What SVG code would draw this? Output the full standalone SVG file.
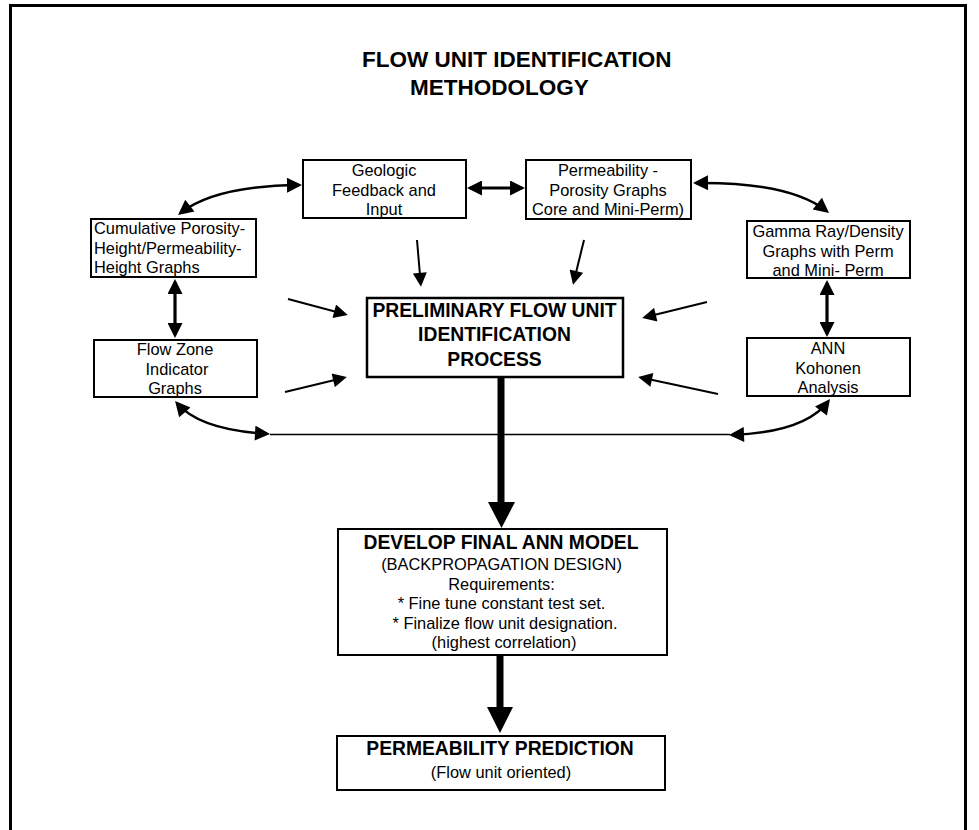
<svg xmlns="http://www.w3.org/2000/svg" width="979" height="830" viewBox="0 0 979 830">
<style>
  .box { fill: #fff; stroke: #000; stroke-width: 2; }
  .t { font-family: "Liberation Sans", Arial, sans-serif; font-size: 16.4px; fill: #000; }
  .c { text-anchor: middle; }
  .b { font-weight: bold; font-size: 19.3px; }
  .title { font-family: "Liberation Sans", Arial, sans-serif; font-weight: bold; font-size: 22.5px; fill: #000; }
  .dbl { fill: none; stroke: #000; stroke-width: 3.2; marker-start: url(#ah); marker-end: url(#ah); }
  .crv { fill: none; stroke: #000; stroke-width: 2.5; marker-start: url(#ah); marker-end: url(#ah); }
  .one { fill: none; stroke: #000; stroke-width: 2; marker-end: url(#ah2); }
  .thick { fill: none; stroke: #000; stroke-width: 7; }
</style>
<defs>
  <marker id="ah" viewBox="0 0 10 10" refX="8" refY="5" markerWidth="17" markerHeight="15" markerUnits="userSpaceOnUse" orient="auto-start-reverse">
    <path d="M0,0 L10,5 L0,10 z" fill="#000"/>
  </marker>
  <marker id="ah2" viewBox="0 0 10 10" refX="8" refY="5" markerWidth="15" markerHeight="14" markerUnits="userSpaceOnUse" orient="auto">
    <path d="M0,0 L10,5 L0,10 z" fill="#000"/>
  </marker>
</defs>
<rect width="979" height="830" fill="#fff"/>
<g id="frame">
  <line x1="10.5" y1="4" x2="10.5" y2="830" stroke="#000" stroke-width="3"/>
  <line x1="9" y1="5.5" x2="967" y2="5.5" stroke="#000" stroke-width="3"/>
  <line x1="965.5" y1="4" x2="965.5" y2="830" stroke="#000" stroke-width="3"/>
</g>
<g id="title">
  <text class="title" x="362" y="67">FLOW UNIT IDENTIFICATION</text>
  <text class="title" x="410" y="95">METHODOLOGY</text>
</g>
<g id="connectors">
  <path class="dbl" d="M470 188 L522 188"/>
  <path class="dbl" d="M175 282 L175 335"/>
  <path class="dbl" d="M827 283 L827 334"/>
  <path class="crv" d="M180.4 213.1 Q215 186 299 185"/>
  <path class="crv" d="M696 183 Q790 182 826.7 211.1"/>
  <path class="crv" d="M177 403.3 Q200 430 267 433.8"/>
  <path class="crv" d="M828.2 401.4 Q805 432 732 434.9"/>
  <line x1="270" y1="434.5" x2="730" y2="434.5" stroke="#000" stroke-width="1.3"/>
  <path class="one" d="M417 240 L420.75 284"/>
  <path class="one" d="M584 240 L573.7 282.1"/>
  <path class="one" d="M288 299 L345.1 314.2"/>
  <path class="one" d="M285 392 L344.1 377.7"/>
  <path class="one" d="M707 302 L644.9 317.3"/>
  <path class="one" d="M718 394 L640.9 377.6"/>
  <line class="thick" x1="501" y1="377" x2="501" y2="504"/>
  <polygon points="488,502 515,502 501.5,528" fill="#000"/>
  <line class="thick" x1="500" y1="655" x2="500" y2="709"/>
  <polygon points="487,707 513,707 500,733" fill="#000"/>
</g>
<g id="cumulative">
  <rect class="box" x="91" y="219" width="165" height="58"/>
  <text class="t" x="94" y="234">Cumulative Porosity-</text>
  <text class="t" x="94" y="253.5">Height/Permeability-</text>
  <text class="t" x="94" y="273">Height Graphs</text>
</g>
<g id="flowzone">
  <rect class="box" x="94" y="340" width="163" height="57"/>
  <text class="t c" x="175" y="355">Flow Zone</text>
  <text class="t c" x="177" y="374.5">Indicator</text>
  <text class="t c" x="175" y="394">Graphs</text>
</g>
<g id="geologic">
  <rect class="box" x="303" y="160" width="163" height="58"/>
  <text class="t c" x="384" y="176">Geologic</text>
  <text class="t c" x="384" y="196">Feedback and</text>
  <text class="t c" x="384" y="215">Input</text>
</g>
<g id="permporo">
  <rect class="box" x="526" y="160" width="165" height="59"/>
  <text class="t c" x="608" y="176">Permeability -</text>
  <text class="t c" x="608" y="196">Porosity Graphs</text>
  <text class="t c" x="608" y="215">Core and Mini-Perm)</text>
</g>
<g id="gamma">
  <rect class="box" x="747" y="221" width="163" height="57"/>
  <text class="t c" x="828" y="236.5">Gamma Ray/Density</text>
  <text class="t c" x="828" y="256.5">Graphs with Perm</text>
  <text class="t c" x="828" y="276">and Mini- Perm</text>
</g>
<g id="ann">
  <rect class="box" x="747" y="338" width="163" height="58"/>
  <text class="t c" x="828" y="354">ANN</text>
  <text class="t c" x="828" y="374">Kohonen</text>
  <text class="t c" x="828" y="393">Analysis</text>
</g>
<g id="preliminary">
  <rect class="box" x="367" y="298" width="256" height="79" style="stroke-width:2.5"/>
  <text class="t c b" x="494.5" y="317">PRELIMINARY FLOW UNIT</text>
  <text class="t c b" x="494.5" y="341">IDENTIFICATION</text>
  <text class="t c b" x="494.5" y="366">PROCESS</text>
</g>
<g id="develop">
  <rect class="box" x="338" y="529" width="329" height="126"/>
  <text class="t c b" x="501" y="549">DEVELOP FINAL ANN MODEL</text>
  <text class="t c" x="501.5" y="570">(BACKPROPAGATION DESIGN)</text>
  <text class="t c" x="501.5" y="590">Requirements:</text>
  <text class="t c" x="501.5" y="609">* Fine tune constant test set.</text>
  <text class="t c" x="505" y="628.5">* Finalize flow unit designation.</text>
  <text class="t c" x="504" y="648">(highest correlation)</text>
</g>
<g id="prediction">
  <rect class="box" x="337" y="736" width="328" height="54"/>
  <text class="t c b" x="500" y="755">PERMEABILITY PREDICTION</text>
  <text class="t c" x="501" y="778">(Flow unit oriented)</text>
</g>
</svg>
